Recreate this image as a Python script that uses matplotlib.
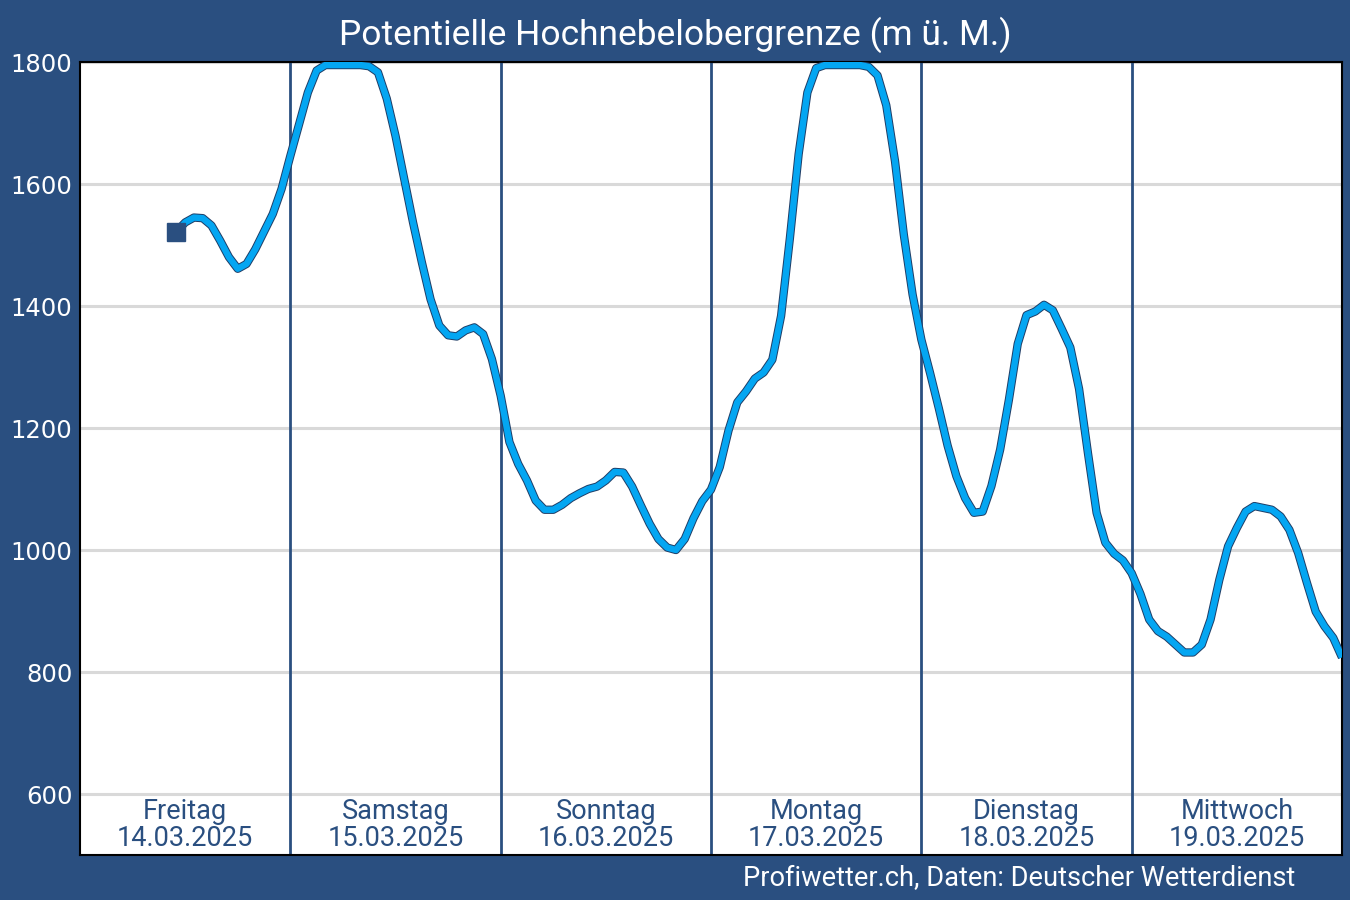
import numpy as np
import matplotlib
matplotlib.use("Agg")
from matplotlib import pyplot as plt
import matplotlib.patheffects as pe

# hourly values, hour 0 = Freitag 00:00
start_hour = 11
hochnebel = [
    1522, 1537, 1545, 1544, 1532, 1507, 1480, 1461, 1469, 1493, 1522, 1551, 1592,
    1646, 1698, 1750, 1786, 1795, 1795, 1795, 1795, 1795, 1793, 1783, 1740, 1679,
    1608, 1537, 1472, 1411, 1368, 1352, 1350, 1360, 1365, 1354, 1313, 1253,
    1177, 1141, 1114, 1081, 1066, 1066, 1074, 1085, 1093, 1100, 1104, 1114,
    1128, 1127, 1104, 1073, 1043, 1018, 1004, 1000, 1018, 1052, 1080, 1099,
    1136, 1196, 1242, 1260, 1281, 1291, 1312, 1384, 1511, 1649, 1750, 1790,
    1795, 1795, 1795, 1795, 1795, 1792, 1778, 1729, 1637, 1517, 1419, 1345,
    1290, 1232, 1171, 1121, 1085, 1061, 1063, 1105, 1165, 1247, 1338, 1385,
    1391, 1402, 1393, 1363, 1332, 1264, 1160, 1061, 1012, 994, 983, 962,
    928, 886, 867, 858, 845, 832, 832, 845, 886, 951, 1006, 1036,
    1063, 1072, 1069, 1066, 1055, 1033, 995, 946, 899, 875, 856, 824,
]
hours = np.arange(start_hour, start_hour + len(hochnebel))

days = ["Freitag", "Samstag", "Sonntag", "Montag", "Dienstag", "Mittwoch"]
dates = ["14.03.2025", "15.03.2025", "16.03.2025", "17.03.2025", "18.03.2025", "19.03.2025"]
yticks = [600, 800, 1000, 1200, 1400, 1600, 1800]

bg = "#2a4f80"
line_blue = "#04a6f2"

fig = plt.figure(figsize=(13.5, 9), dpi=100, facecolor=bg)
ax = fig.add_axes([80 / 1350, 45 / 900, 1262 / 1350, 793 / 900])
ax.set_facecolor("white")

ax.set_xlim(0, 24 * len(days))
ax.set_ylim(500, 1800)
ax.set_yticks(yticks)
ax.set_xticks([])
ax.tick_params(axis="y", length=0, pad=5.5, labelsize=17.5, labelcolor="white")
for s in ax.spines.values():
    s.set_color("black")
    s.set_linewidth(1.5)

# grid
for v in yticks:
    ax.axhline(v, color="#d9d9d9", lw=2.2, zorder=1)

# day separators
for i in range(1, len(days)):
    ax.axvline(24 * i, color=bg, lw=2, zorder=2)

# day labels
for i, (d, dt) in enumerate(zip(days, dates)):
    ax.text(24 * i + 12, 572, d, ha="center", va="center", fontsize=19.5,
            family="Roboto", color=bg, zorder=3)
    ax.text(24 * i + 12, 527, dt, ha="center", va="center", fontsize=19.5,
            family="Roboto", color=bg, zorder=3)

ax.plot(hours, hochnebel, color=line_blue, lw=4.6, solid_joinstyle="round",
        solid_capstyle="butt", zorder=4,
        path_effects=[pe.Stroke(linewidth=6.0, foreground="#1f3d66"), pe.Normal()])
ax.plot(hours[0], hochnebel[0], marker="s", ms=13, color=bg, zorder=5)

fig.text(0.5, 1 - 35 / 900, "Potentielle Hochnebelobergrenze (m ü. M.)", ha="center",
         va="center", fontsize=25.5, family="Roboto", color="white")
fig.text(1295 / 1350, 1 - 879 / 900, "Profiwetter.ch, Daten: Deutscher Wetterdienst",
         ha="right", va="center", fontsize=19.6, family="Roboto", color="white")

fig.savefig("out.png", dpi=100, facecolor=bg)
